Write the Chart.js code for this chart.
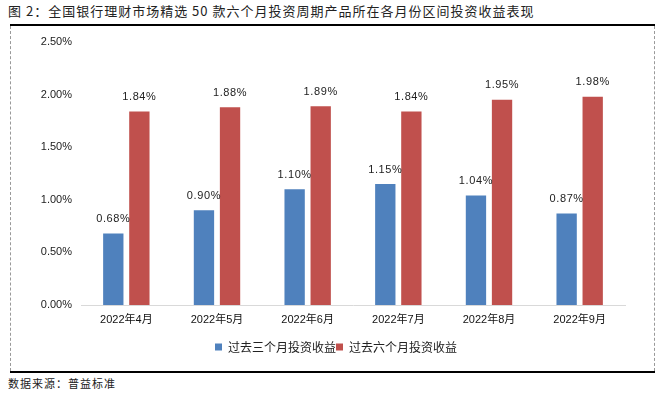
<!DOCTYPE html>
<html><head><meta charset="utf-8">
<script src="https://cdn.jsdelivr.net/npm/chart.js@4/dist/chart.umd.min.js"></script>
<style>
html,body{margin:0;padding:0;background:#fff;width:666px;height:393px;overflow:hidden;font-family:"Noto Sans CJK SC","Liberation Sans",sans-serif;}
#title{position:absolute;left:8px;top:1px;font-size:13px;color:#222;white-space:nowrap;letter-spacing:1px;}
#topline{position:absolute;left:10px;top:24px;width:645px;height:2px;background:#000;}
#box{position:absolute;left:10px;top:26px;width:643px;height:345px;border-left:1px dashed #999;border-right:1px dashed #999;}
#botline{position:absolute;left:10px;top:371px;width:645px;height:2px;background:#000;}
#src{position:absolute;left:8px;top:375px;font-size:11px;color:#222;white-space:nowrap;letter-spacing:1px;}
#wrap{position:absolute;left:1px;top:0;width:643px;height:345px;}
</style></head>
<body>
<div id="title">图 2：全国银行理财市场精选 50 款六个月投资周期产品所在各月份区间投资收益表现</div>
<div id="topline"></div>
<div id="box"><div id="wrap"><canvas id="c" width="643" height="345"></canvas></div></div>
<div id="botline"></div>
<div id="src">数据来源：普益标准</div>
<script>
const categories = ["2022年4月","2022年5月","2022年6月","2022年7月","2022年8月","2022年9月"];
const seriesNames = ["过去三个月投资收益","过去六个月投资收益"];
const threeMonth = [0.68,0.90,1.10,1.15,1.04,0.87];
const sixMonth = [1.84,1.88,1.89,1.84,1.95,1.98];
const yTicks = [0,0.5,1.0,1.5,2.0,2.5];

const labelPlugin = {
  id:'barLabels',
  afterDatasetsDraw(chart){
    const ctx = chart.ctx;
    ctx.save();
    ctx.font = '11px "Liberation Sans", sans-serif';
    if ('letterSpacing' in ctx) ctx.letterSpacing = '0.6px';
    ctx.fillStyle = '#222';
    ctx.textAlign = 'center';
    ctx.textBaseline = 'bottom';
    chart.data.datasets.forEach((ds,i)=>{
      chart.getDatasetMeta(i).data.forEach((bar,j)=>{
        ctx.fillText(ds.data[j].toFixed(2)+'%', bar.x, bar.y - 9);
      });
    });
    ctx.restore();
  }
};

new Chart(document.getElementById('c'),{
  type:'bar',
  data:{
    labels:categories,
    datasets:[
      {label:seriesNames[0],data:threeMonth,backgroundColor:'#4F81BD',categoryPercentage:0.575,barPercentage:0.78},
      {label:seriesNames[1],data:sixMonth,backgroundColor:'#C0504D',categoryPercentage:0.575,barPercentage:0.78}
    ]
  },
  options:{
    responsive:false,
    animation:false,
    layout:{padding:{left:5,right:0,top:16,bottom:8}},
    plugins:{
      legend:{position:'bottom',labels:{boxWidth:7,boxHeight:7,padding:0,color:'#222',font:{size:12,family:'"Noto Sans CJK SC", sans-serif'}}},
      tooltip:{enabled:false}
    },
    scales:{
      x:{
        grid:{display:false},
        border:{display:true,color:'#d9d9d9',width:1},
        ticks:{color:'#111',font:{size:11,family:'"Liberation Sans","Noto Sans CJK SC",sans-serif'},padding:0},
        afterFit(s){s.height=36;}
      },
      y:{
        min:0,max:2.5,
        grid:{display:false},
        border:{display:false},
        afterBuildTicks(s){s.ticks = yTicks.map(v=>({value:v}));},
        ticks:{color:'#222',font:{size:11,family:'"Liberation Sans",sans-serif'},padding:1,callback:v=>Number(v).toFixed(2)+'%'},
        afterFit(s){s.width=64;}
      },
      yRight:{
        position:'right',
        display:true,
        grid:{display:false},
        border:{display:false},
        ticks:{display:false},
        afterFit(s){s.width=30;}
      }
    }
  },
  plugins:[labelPlugin]
});
</script>
</body></html>
